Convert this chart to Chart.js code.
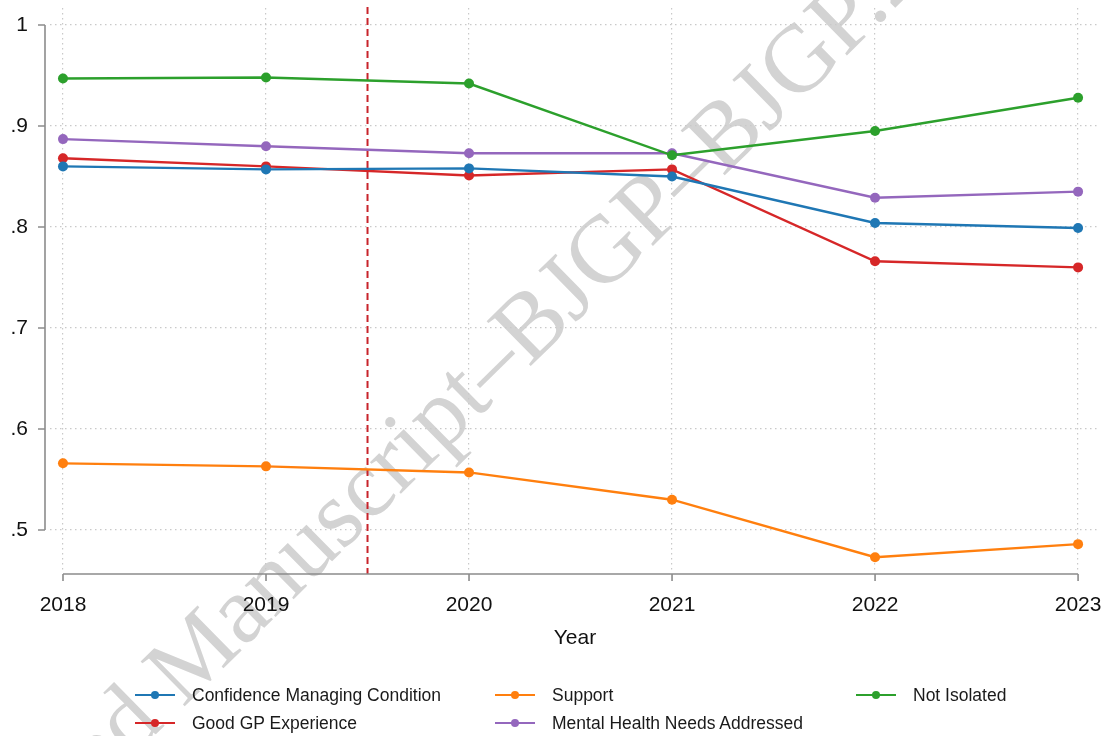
<!DOCTYPE html>
<html>
<head>
<meta charset="utf-8">
<script src="https://cdn.jsdelivr.net/npm/chart.js@4.4.1/dist/chart.umd.min.js"></script>
<style>
  html, body { margin: 0; padding: 0; background: #fff; }
  #wrap { position: relative; width: 1109px; height: 736px; overflow: hidden; font-family: "Liberation Sans", Arial, sans-serif; }
  #mark { position: absolute; left: 0; top: 0; width: 1109px; height: 736px; }
  #box { position: absolute; left: 0; top: 0; width: 1109px; height: 660px; }
  #legend { position: absolute; left: 0; top: 0; width: 1109px; height: 736px; pointer-events: none; }
  .item { position: absolute; height: 24px; display: flex; align-items: center; font-size: 17.5px; color: #1a1a1a; white-space: nowrap; }
  .item svg { margin-right: 17px; }
</style>
</head>
<body>
<div id="wrap">
  <svg id="mark" width="1109" height="736">
    <text x="-93" y="979" transform="rotate(-44.5 -93 979)"
      font-family="Liberation Serif, Times New Roman, serif" font-size="96" fill="#d3d3d3">Accepted Manuscript–BJGP–BJGP.2024</text>
  </svg>
  <div id="box"><canvas id="chart"></canvas></div>
  <div id="legend"></div>
</div>
<script>
const years = [2018, 2019, 2020, 2021, 2022, 2023];
const yTicks = [0.5, 0.6, 0.7, 0.8, 0.9, 1.0];
const refYear = 2019.5;

const seriesNames = ["Confidence Managing Condition", "Support", "Not Isolated", "Good GP Experience", "Mental Health Needs Addressed"];
const seriesColors = ["#1f77b4", "#ff7f0e", "#2ca02c", "#d62728", "#9467bd"];

const confidence = [0.860, 0.857, 0.858, 0.850, 0.804, 0.799];
const support = [0.566, 0.563, 0.557, 0.530, 0.473, 0.486];
const notIsolated = [0.947, 0.948, 0.942, 0.871, 0.895, 0.928];
const goodGP = [0.868, 0.860, 0.851, 0.857, 0.766, 0.760];
const mentalHealth = [0.887, 0.880, 0.873, 0.873, 0.829, 0.835];

const seriesValues = [confidence, support, notIsolated, goodGP, mentalHealth];

const FONT = '"Liberation Sans", Arial, sans-serif';
const gridColor = "#c9c9c9";
const axisColor = "#8c8c8c";

function fmtTick(v) {
  if (Math.abs(v - 1) < 1e-9) return "1";
  return "." + Math.round(v * 10);
}

// stata style axes: lines only span the tick range, a small gap from the plot area
const stataAxes = {
  id: "stataAxes",
  beforeDatasetsDraw(chart) {
    const { ctx, chartArea, scales: { x } } = chart;
    const rx = x.getPixelForValue(refYear);
    ctx.save();
    ctx.strokeStyle = "#c8232b";
    ctx.lineWidth = 2;
    ctx.setLineDash([7, 4]);
    ctx.beginPath();
    ctx.moveTo(rx, chartArea.top - 1);
    ctx.lineTo(rx, chartArea.bottom + 4);
    ctx.stroke();
    ctx.restore();
  },
  afterDraw(chart) {
    const { ctx, chartArea, scales: { x, y } } = chart;
    ctx.save();
    ctx.strokeStyle = axisColor;
    ctx.lineWidth = 1.6;
    const ax = chartArea.left - 5;
    const ay = chartArea.bottom + 4;
    ctx.beginPath();
    ctx.moveTo(ax, y.getPixelForValue(yTicks[yTicks.length - 1]));
    ctx.lineTo(ax, y.getPixelForValue(yTicks[0]));
    yTicks.forEach(v => {
      const py = y.getPixelForValue(v);
      ctx.moveTo(ax - 7, py);
      ctx.lineTo(ax, py);
    });
    ctx.moveTo(x.getPixelForValue(years[0]), ay);
    ctx.lineTo(x.getPixelForValue(years[years.length - 1]), ay);
    years.forEach(v => {
      const px = x.getPixelForValue(v);
      ctx.moveTo(px, ay);
      ctx.lineTo(px, ay + 7);
    });
    ctx.stroke();
    ctx.restore();
  }
};

new Chart(document.getElementById("chart"), {
  type: "line",
  data: {
    datasets: seriesNames.map((name, i) => ({
      label: name,
      data: years.map((yr, j) => ({ x: yr, y: seriesValues[i][j] })),
      borderColor: seriesColors[i],
      backgroundColor: seriesColors[i],
      borderWidth: 2.4,
      pointRadius: 5,
      pointBorderWidth: 0,
      tension: 0
    }))
  },
  options: {
    responsive: true,
    maintainAspectRatio: false,
    animation: false,
    layout: { padding: { top: 8, right: 9, left: 0, bottom: 0 } },
    plugins: { legend: { display: false }, tooltip: { enabled: false } },
    scales: {
      x: {
        type: "linear",
        min: 2017.936,
        max: 2023.108,
        afterFit: s => { s.height = 90; s.paddingLeft = 0; s.paddingRight = 0; },
        afterBuildTicks: s => { s.ticks = years.map(v => ({ value: v })); },
        ticks: { padding: 23, color: "#111", font: { family: FONT, size: 21 }, callback: v => String(v), maxRotation: 0 },
        grid: { color: gridColor, lineWidth: 1.2, drawTicks: false },
        border: { display: false, dash: [1.5, 3.5] },
        title: { display: true, text: "Year", color: "#111", font: { family: FONT, size: 21 }, padding: { top: 4, bottom: 9 } }
      },
      y: {
        min: 0.4604,
        max: 1.0168,
        afterFit: s => { s.width = 50; s.paddingTop = 0; s.paddingBottom = 0; },
        afterBuildTicks: s => { s.ticks = yTicks.map(v => ({ value: v })); },
        ticks: { padding: 22, color: "#111", font: { family: FONT, size: 21 }, callback: v => fmtTick(v) },
        grid: { color: gridColor, lineWidth: 1.2, drawTicks: false },
        border: { display: false, dash: [1.5, 3.5] }
      }
    }
  },
  plugins: [stataAxes]
});

// legend laid out like stata: 3 columns, filled row by row
const legendCols = [135, 495, 856];
const legendRows = [683, 711];
const legend = document.getElementById("legend");
seriesNames.forEach((name, i) => {
  const el = document.createElement("div");
  el.className = "item";
  el.style.left = legendCols[i % 3] + "px";
  el.style.top = legendRows[Math.floor(i / 3)] + "px";
  el.innerHTML = `<svg width="40" height="12"><line x1="0" y1="6" x2="40" y2="6" stroke="${seriesColors[i]}" stroke-width="2"/><circle cx="20" cy="6" r="4" fill="${seriesColors[i]}"/></svg>`;
  const span = document.createElement("span");
  span.textContent = name;
  el.appendChild(span);
  legend.appendChild(el);
});
</script>
</body>
</html>
